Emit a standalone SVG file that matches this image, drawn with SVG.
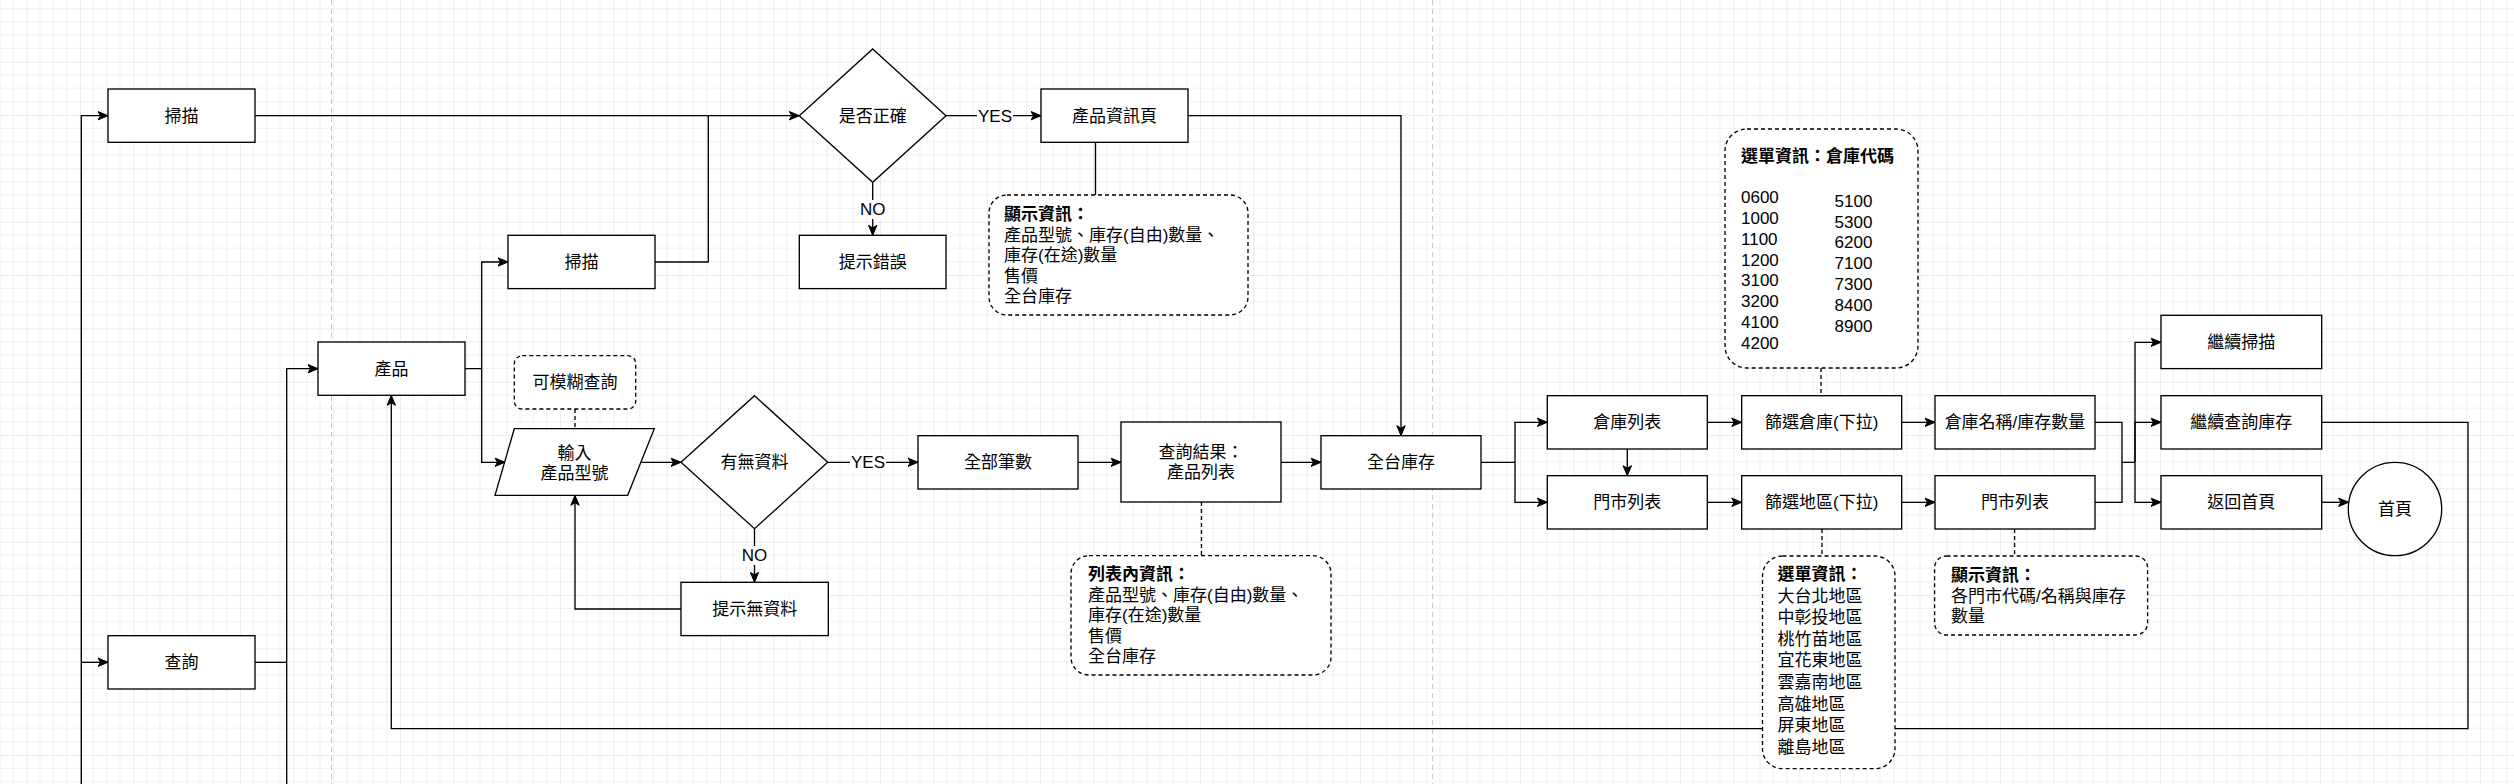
<svg xmlns="http://www.w3.org/2000/svg" width="2514" height="784" viewBox="0 0 2514 784">
<style>
.n{fill:#fff;stroke:#000;stroke-width:1.33}
.note{fill:#fff;stroke:#000;stroke-width:1.33;stroke-dasharray:4 3}
.c{fill:none;stroke:#000;stroke-width:1.33}
.cd{fill:none;stroke:#000;stroke-width:1.33;stroke-dasharray:4 3}
.a{marker-end:url(#arr)}
text{font-family:"Liberation Sans","Noto Sans CJK TC",sans-serif;font-size:17px;fill:#000}
.m{text-anchor:middle}
.b{font-weight:bold}
.lb{fill:#fff;stroke:none}
</style>
<defs>
<pattern id="grid" patternUnits="userSpaceOnUse" x="26.667" y="8.333" width="53.333" height="53.333">
<path d="M13.333,0V53.333M26.667,0V53.333M40,0V53.333M0,13.333H53.333M0,26.667H53.333M0,40H53.333" stroke="#f0f0f0" stroke-width="1" fill="none"/>
<path d="M0,0V53.333M0,0H53.333" stroke="#dadada" stroke-width="1" fill="none"/>
</pattern>
<marker id="arr" markerUnits="userSpaceOnUse" markerWidth="11" markerHeight="10" viewBox="0 0 11 10" refX="10.5" refY="5" orient="auto">
<path d="M0.5,0.8 L10.5,5 L0.5,9.2 L3,5 Z" fill="#000" stroke="#000" stroke-width="1"/>
</marker>
</defs>
<g id="background">
<rect x="0" y="0" width="2514" height="784" fill="#fff"/>
<rect x="0" y="0" width="2514" height="784" fill="url(#grid)"/>
<path d="M331.5,0V784M1432.5,0V784" stroke="#c8c8c8" stroke-width="1" stroke-dasharray="5 4" fill="none"/>
</g>
<g id="connectors">
<path class="c a" d="M81.3,784V115.7H108"/>
<path class="c a" d="M81.3,662.3H108"/>
<path class="c" d="M255,662.3H286.7"/>
<path class="c a" d="M286.7,784V368.7H318"/>
<path class="c a" d="M255,115.7H799.3"/>
<path class="c" d="M655,262H708.3V115.7"/>
<path class="c a" d="M465,368.7H481.7V262H508"/>
<path class="c a" d="M481.7,368.7V462.3H505"/>
<path class="cd" d="M575,409V428.7"/>
<path class="c a" d="M641.5,462.3H681"/>
<path class="c a" d="M946,115.7H1041"/>
<rect class="lb" x="977" y="106" width="36" height="19"/>
<text class="m" x="995" y="121.7">YES</text>
<path class="c a" d="M872.7,182.3V235.3"/>
<rect class="lb" x="858" y="200" width="30" height="19"/>
<text class="m" x="872.7" y="215">NO</text>
<path class="c" d="M1095.5,142.3V195"/>
<path class="c a" d="M1188,115.7H1401V435.7"/>
<path class="c a" d="M827.7,462.3H918"/>
<rect class="lb" x="850" y="453" width="36" height="19"/>
<text class="m" x="868" y="468.3">YES</text>
<path class="c a" d="M754.5,528.7V582.3"/>
<rect class="lb" x="740" y="546" width="30" height="19"/>
<text class="m" x="754.5" y="561">NO</text>
<path class="c a" d="M681,609H575V495.3"/>
<path class="c a" d="M1078,462.3H1121"/>
<path class="cd" d="M1201.5,502V555.7"/>
<path class="c a" d="M1281,462.3H1321"/>
<path class="c" d="M1481,462.3H1515"/>
<path class="c a" d="M1515,462.3V422.3H1547.3"/>
<path class="c a" d="M1515,462.3V502.3H1547.3"/>
<path class="c a" d="M1627.3,449V475.7"/>
<path class="c a" d="M1707.3,422.3H1741.7"/>
<path class="c a" d="M1707.3,502.3H1741.7"/>
<path class="cd" d="M1821,368V395.7"/>
<path class="cd" d="M1822,529V556"/>
<path class="c a" d="M1901.7,422.3H1935"/>
<path class="c a" d="M1901.7,502.3H1935"/>
<path class="cd" d="M2014.6,529V556"/>
<path class="c" d="M2095,422.3H2122V462.3H2135"/>
<path class="c" d="M2095,502.3H2122V462.3"/>
<path class="c a" d="M2135,462.3V342.3H2161"/>
<path class="c a" d="M2135,462.3V422.3H2161"/>
<path class="c a" d="M2135,462.3V502.3H2161"/>
<path class="c a" d="M2321.7,502.3H2348.6"/>
<path class="c a" d="M2321.7,422.3H2468V728.7H391.3V395.3"/>
</g>
<g id="scan-main">
<rect class="n" x="108" y="89" width="147" height="53.3"/>
<text class="m" x="181.5" y="121.7">掃描</text>
</g>
<g id="query-main">
<rect class="n" x="108" y="635.7" width="147" height="53.3"/>
<text class="m" x="181.5" y="668.3">查詢</text>
</g>
<g id="product">
<rect class="n" x="318" y="342" width="147" height="53.3"/>
<text class="m" x="391.5" y="374.7">產品</text>
</g>
<g id="scan-product">
<rect class="n" x="508" y="235.3" width="147" height="53.3"/>
<text class="m" x="581.5" y="268">掃描</text>
</g>
<g id="is-correct">
<path class="n" d="M872.7,49L946,115.7L872.7,182.3L799.3,115.7Z"/>
<text class="m" x="872.7" y="121.7">是否正確</text>
</g>
<g id="show-error">
<rect class="n" x="799.3" y="235.3" width="146.7" height="53.3"/>
<text class="m" x="872.7" y="268">提示錯誤</text>
</g>
<g id="product-info-page">
<rect class="n" x="1041" y="89" width="147" height="53.3"/>
<text class="m" x="1114.5" y="121.7">產品資訊頁</text>
</g>
<g id="note-product-info">
<rect class="note" x="989" y="195" width="259" height="120" rx="18"/>
<text class="b" x="1004" y="220">顯示資訊：</text>
<text x="1004" y="240.5">產品型號、庫存(自由)數量、</text>
<text x="1004" y="261">庫存(在途)數量</text>
<text x="1004" y="281.5">售價</text>
<text x="1004" y="302">全台庫存</text>
</g>
<g id="fuzzy-note">
<rect class="note" x="514.3" y="355.7" width="121.4" height="53.3" rx="8"/>
<text class="m" x="575" y="388.3">可模糊查詢</text>
</g>
<g id="input-model">
<path class="n" d="M514.3,428.7H654.3L627.7,495.3H495Z"/>
<text class="m" x="574.5" y="458.7">輸入</text>
<text class="m" x="574.5" y="479.3">產品型號</text>
</g>
<g id="has-data">
<path class="n" d="M754.5,395.7L827.7,462.3L754.5,528.7L681,462.3Z"/>
<text class="m" x="754.5" y="468.3">有無資料</text>
</g>
<g id="no-data">
<rect class="n" x="681" y="582.3" width="147.3" height="53.3"/>
<text class="m" x="754.7" y="615">提示無資料</text>
</g>
<g id="all-count">
<rect class="n" x="918" y="435.7" width="160" height="53.3"/>
<text class="m" x="998" y="468.3">全部筆數</text>
</g>
<g id="query-result">
<rect class="n" x="1121" y="422" width="160" height="80"/>
<text class="m" x="1201" y="458">查詢結果：</text>
<text class="m" x="1201" y="478">產品列表</text>
</g>
<g id="note-list-info">
<rect class="note" x="1071" y="555.7" width="260" height="119.3" rx="18"/>
<text class="b" x="1088" y="580.3">列表內資訊：</text>
<text x="1088" y="600.8">產品型號、庫存(自由)數量、</text>
<text x="1088" y="621.3">庫存(在途)數量</text>
<text x="1088" y="641.8">售價</text>
<text x="1088" y="662.3">全台庫存</text>
</g>
<g id="all-stock">
<rect class="n" x="1321" y="435.7" width="160" height="53.3"/>
<text class="m" x="1401" y="468.3">全台庫存</text>
</g>
<g id="warehouse-list">
<rect class="n" x="1547.3" y="395.7" width="160" height="53.3"/>
<text class="m" x="1627.3" y="428.3">倉庫列表</text>
</g>
<g id="store-list-left">
<rect class="n" x="1547.3" y="475.7" width="160" height="53.3"/>
<text class="m" x="1627.3" y="508.3">門市列表</text>
</g>
<g id="filter-warehouse">
<rect class="n" x="1741.7" y="395.7" width="160" height="53.3"/>
<text class="m" x="1821.7" y="428.3">篩選倉庫(下拉)</text>
</g>
<g id="filter-region">
<rect class="n" x="1741.7" y="475.7" width="160" height="53.3"/>
<text class="m" x="1821.7" y="508.3">篩選地區(下拉)</text>
</g>
<g id="note-warehouse-codes">
<rect class="note" x="1725" y="129" width="193" height="239" rx="22"/>
<text class="b" x="1741" y="162">選單資訊：倉庫代碼</text>
<text x="1741" y="203.3">0600</text>
<text x="1741" y="224">1000</text>
<text x="1741" y="244.8">1100</text>
<text x="1741" y="265.5">1200</text>
<text x="1741" y="286.3">3100</text>
<text x="1741" y="307">3200</text>
<text x="1741" y="327.8">4100</text>
<text x="1741" y="348.5">4200</text>
<text x="1834.6" y="206.7">5100</text>
<text x="1834.6" y="227.5">5300</text>
<text x="1834.6" y="248.3">6200</text>
<text x="1834.6" y="269.1">7100</text>
<text x="1834.6" y="289.9">7300</text>
<text x="1834.6" y="310.7">8400</text>
<text x="1834.6" y="331.5">8900</text>
</g>
<g id="note-regions">
<rect class="note" x="1762.5" y="556" width="132.5" height="212.7" rx="20"/>
<text class="b" x="1777.5" y="580">選單資訊：</text>
<text x="1777.5" y="601.6">大台北地區</text>
<text x="1777.5" y="623.2">中彰投地區</text>
<text x="1777.5" y="644.8">桃竹苗地區</text>
<text x="1777.5" y="666.4">宜花東地區</text>
<text x="1777.5" y="688">雲嘉南地區</text>
<text x="1777.5" y="709.6">高雄地區</text>
<text x="1777.5" y="731.2">屏東地區</text>
<text x="1777.5" y="752.8">離島地區</text>
</g>
<g id="warehouse-name-stock">
<rect class="n" x="1935" y="395.7" width="160" height="53.3"/>
<text class="m" x="2015" y="428.3">倉庫名稱/庫存數量</text>
</g>
<g id="store-list-right">
<rect class="n" x="1935" y="475.7" width="160" height="53.3"/>
<text class="m" x="2015" y="508.3">門市列表</text>
</g>
<g id="note-store-info">
<rect class="note" x="1934.6" y="556" width="213" height="79" rx="12"/>
<text class="b" x="1951" y="581">顯示資訊：</text>
<text x="1951" y="601.5">各門市代碼/名稱與庫存</text>
<text x="1951" y="622">數量</text>
</g>
<g id="continue-scan">
<rect class="n" x="2161" y="315.3" width="160.7" height="53.3"/>
<text class="m" x="2241.3" y="348">繼續掃描</text>
</g>
<g id="continue-query">
<rect class="n" x="2161" y="395.7" width="160.7" height="53.3"/>
<text class="m" x="2241.3" y="428.3">繼續查詢庫存</text>
</g>
<g id="back-home">
<rect class="n" x="2161" y="475.7" width="160.7" height="53.3"/>
<text class="m" x="2241.3" y="508.3">返回首頁</text>
</g>
<g id="home">
<circle class="n" cx="2395" cy="509" r="46.7"/>
<text class="m" x="2395" y="515">首頁</text>
</g>
</svg>
